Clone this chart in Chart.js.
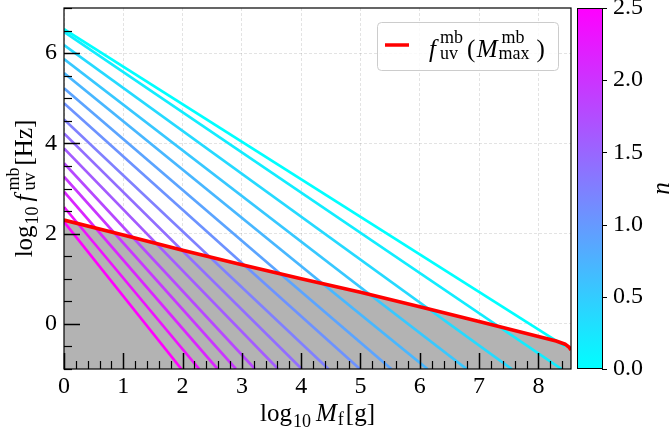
<!DOCTYPE html>
<html><head><meta charset="utf-8">
<script src="https://cdn.jsdelivr.net/npm/chart.js@4.4.0/dist/chart.umd.min.js"></script>
<style>html,body{margin:0;padding:0;background:#fff;}#wrap{width:672px;height:437px;}</style>
</head><body><div id="wrap"><canvas id="c" width="672" height="437"></canvas></div>
<script>
// ---- data ----
const xTickValues = [0, 1, 2, 3, 4, 5, 6, 7, 8];
const yTickValues = [0, 2, 4, 6];
const cbTickValues = [0, 0.5, 1.0, 1.5, 2.0, 2.5];
// n for each line (top line first)
const nValues = [0.00, 0.18, 0.36, 0.54, 0.71, 0.89, 1.07, 1.25, 1.43, 1.61, 1.79, 1.96, 2.14, 2.32, 2.50];
// log10 f at log10 M = 0
const lineStartY = [6.53, 6.47, 6.18, 5.87, 5.56, 5.22, 4.89, 4.53, 4.22, 3.89, 3.56, 3.26, 2.93, 2.59, 2.26];
// end point of each line
const lineEndX = [8.45, 8.39, 7.55, 6.79, 6.13, 5.52, 4.99, 4.46, 4.01, 3.61, 3.22, 2.90, 2.59, 2.28, 1.98];
const lineEndY = [-0.50, -1, -1, -1, -1, -1, -1, -1, -1, -1, -1, -1, -1, -1, -1];
// red envelope f_uv(M_max)
const envelopeX = [0, 1, 2, 3, 4, 5, 6, 7, 8, 8.3, 8.45, 8.52, 8.55];
const envelopeY = [2.30, 1.97, 1.63, 1.31, 1.00, 0.70, 0.38, 0.05, -0.28, -0.38, -0.45, -0.52, -0.58];

const FAM = '"Liberation Serif", serif';
const TICK = 24, MAIN = 25, SCR = 18;

function coolColor(n) {
  const t = Math.max(0, Math.min(1, n / 2.5));
  return `rgb(${Math.round(255 * t)},${Math.round(255 * (1 - t))},255)`;
}

const datasets = [{
  label: 'envelope',
  data: envelopeX.map((x, i) => ({ x, y: envelopeY[i] })),
  borderColor: '#ff0000', borderWidth: 3.6, backgroundColor: '#b3b3b3',
  fill: 'start', pointRadius: 0, order: 0, tension: 0
}];
nValues.forEach((n, i) => {
  datasets.push({
    label: 'n=' + n,
    data: [{ x: 0, y: lineStartY[i] }, { x: lineEndX[i], y: lineEndY[i] }],
    borderColor: coolColor(n), borderWidth: 2.7, fill: false, pointRadius: 0, order: 1 + i
  });
});

// rich text helper
function font(sz, it) { return (it ? 'italic ' : '') + sz + 'px ' + FAM; }
function runW(ctx, r) {
  if (r.sup !== undefined) {
    ctx.font = font(r.s || SCR, false); const a = ctx.measureText(r.sup).width + (r.supdx || 0);
    const b = ctx.measureText(r.sub).width; return Math.max(a, b) + (r.pad || 0);
  }
  ctx.font = font(r.s || MAIN, r.i); return ctx.measureText(r.t).width + (r.pad || 0);
}
function drawRich(ctx, runs, x, y, align) {
  let w = 0; runs.forEach(r => w += runW(ctx, r));
  let cx = align === 'center' ? x - w / 2 : x;
  ctx.textBaseline = 'alphabetic'; ctx.textAlign = 'left'; ctx.fillStyle = '#000';
  runs.forEach(r => {
    if (r.sup !== undefined) {
      ctx.font = font(r.s || SCR, false);
      ctx.fillText(r.sup, cx + (r.supdx || 0), y + r.dySup);
      ctx.fillText(r.sub, cx, y + r.dySub);
    } else {
      ctx.font = font(r.s || MAIN, r.i);
      ctx.fillText(r.t, cx, y + (r.dy || 0));
    }
    cx += runW(ctx, r);
  });
}

const decor = {
  id: 'decor',
  afterDraw(chart) {
    const ctx = chart.ctx, a = chart.chartArea;
    const xs = chart.scales.x, ys = chart.scales.y, cb = chart.scales.cb;
    ctx.save();
    ctx.strokeStyle = '#000';
    const seg = (x1, y1, x2, y2, w) => { ctx.lineWidth = w; ctx.beginPath(); ctx.moveTo(x1, y1); ctx.lineTo(x2, y2); ctx.stroke(); };
    // x ticks (inward)
    for (let k = 0; k * 0.2 <= xs.max + 1e-9; k++) {
      const v = k * 0.2, px = Math.round(xs.getPixelForValue(v)) + 0.5;
      const major = k % 5 === 0;
      seg(px, a.bottom, px, a.bottom - (major ? 16 : 8), major ? 1.5 : 1.2);
    }
    // y ticks (inward)
    for (let k = 0; -1 + k * 0.5 <= ys.max + 1e-9; k++) {
      const v = -1 + k * 0.5, py = Math.round(ys.getPixelForValue(v)) + 0.5;
      const major = Math.abs(v / 2 - Math.round(v / 2)) < 1e-9;
      seg(a.left, py, a.left + (major ? 16 : 8), py, major ? 1.5 : 1.2);
    }
    // frame
    ctx.lineWidth = 1.2; ctx.strokeRect(a.left, a.top, a.right - a.left, a.bottom - a.top);

    // colorbar
    const bx = a.right + 6, bw = 25;
    const top = cb.getPixelForValue(2.5), bot = cb.getPixelForValue(0);
    const g = ctx.createLinearGradient(0, bot, 0, top);
    g.addColorStop(0, coolColor(0)); g.addColorStop(1, coolColor(2.5));
    ctx.fillStyle = g; ctx.fillRect(bx, top, bw, bot - top);
    ctx.lineWidth = 1; ctx.strokeRect(bx + 0.5, top + 0.5, bw, bot - top - 1);
    cbTickValues.forEach(v => { const py = Math.round(cb.getPixelForValue(v)) + 0.5; seg(bx + bw, py, bx + bw + 5, py, 1); });
    // colorbar label
    ctx.save(); ctx.translate(669, (a.top + a.bottom) / 2); ctx.rotate(-Math.PI / 2);
    drawRich(ctx, [{ t: 'n', i: true }], 0, 0, 'center'); ctx.restore();

    // axis titles
    drawRich(ctx, [
      { t: 'log', pad: 1 }, { t: '10', s: SCR, dy: 6, pad: 5 }, { t: 'M', i: true, pad: 1 }, { t: 'f', s: SCR, dy: 4, pad: 2 }, { t: '[g]' }
    ], (a.left + a.right) / 2, 421, 'center');
    ctx.save(); ctx.translate(32, (a.top + a.bottom) / 2); ctx.rotate(-Math.PI / 2);
    drawRich(ctx, [
      { t: 'log', pad: 1 }, { t: '10', s: SCR, dy: 6, pad: 5 }, { t: 'f', i: true, pad: 4 },
      { sup: 'mb', sub: 'uv', dySup: -13, dySub: 3, pad: 2 }, { t: '[Hz]' }
    ], 0, 0, 'center');
    ctx.restore();

    // legend
    const lx = a.right - 194, ly = a.top + 14, lw = 181, lh = 48;
    ctx.beginPath();
    if (ctx.roundRect) ctx.roundRect(lx + 0.5, ly + 0.5, lw, lh, 4); else ctx.rect(lx + 0.5, ly + 0.5, lw, lh);
    ctx.fillStyle = 'rgba(255,255,255,0.8)'; ctx.fill();
    ctx.strokeStyle = '#cccccc'; ctx.lineWidth = 1; ctx.stroke();
    ctx.strokeStyle = '#ff0000'; seg(lx + 8, ly + 23, lx + 32, ly + 23, 3.5);
    drawRich(ctx, [
      { t: 'f', i: true, pad: 4 }, { sup: 'mb', sub: 'uv', dySup: -14, dySub: 2, pad: 4 },
      { t: '(', pad: 1.5 }, { t: 'M', i: true, pad: 1 }, { sup: 'mb', sub: 'max', dySup: -14, dySub: 2, supdx: 3, pad: 7 }, { t: ')' }
    ], lx + 52, ly + 35, 'left');
    ctx.restore();
  }
};

new Chart(document.getElementById('c'), {
  type: 'line',
  data: { datasets },
  plugins: [decor],
  options: {
    responsive: false, animation: false, devicePixelRatio: 1,
    layout: { padding: { top: 8, left: 0, right: 0, bottom: 0 } },
    plugins: { legend: { display: false }, tooltip: { enabled: false }, filler: { drawTime: 'beforeDatasetsDraw' } },
    scales: {
      x: {
        type: 'linear', min: 0, max: 8.55, position: 'bottom',
        afterBuildTicks: s => { s.ticks = xTickValues.map(v => ({ value: v })); },
        afterFit: s => { s.height = 68; s.paddingLeft = 0; s.paddingRight = 0; },
        ticks: { font: { family: FAM, size: TICK }, color: '#000', padding: 3, maxRotation: 0, autoSkip: false, callback: v => String(v) },
        grid: { color: 'rgba(0,0,0,0.14)', lineWidth: 0.8, drawTicks: false },
        border: { display: false, dash: [3, 2] }
      },
      y: {
        type: 'linear', min: -1, max: 7, position: 'left',
        afterBuildTicks: s => { s.ticks = yTickValues.map(v => ({ value: v })); },
        afterFit: s => { s.width = 64; s.paddingTop = 0; s.paddingBottom = 0; },
        ticks: { font: { family: FAM, size: TICK }, color: '#000', padding: 7, autoSkip: false, callback: v => String(v) },
        grid: { color: 'rgba(0,0,0,0.14)', lineWidth: 0.8, drawTicks: false },
        border: { display: false, dash: [3, 2] }
      },
      cb: {
        type: 'linear', min: 0, max: 2.5, position: 'right',
        afterBuildTicks: s => { s.ticks = cbTickValues.map(v => ({ value: v })); },
        afterFit: s => { s.width = 101; s.paddingTop = 0; s.paddingBottom = 0; },
        ticks: { font: { family: FAM, size: TICK }, color: '#000', padding: 42, autoSkip: false, callback: v => v.toFixed(1) },
        grid: { display: false, drawTicks: false },
        border: { display: false }
      }
    }
  }
});
</script></body></html>
